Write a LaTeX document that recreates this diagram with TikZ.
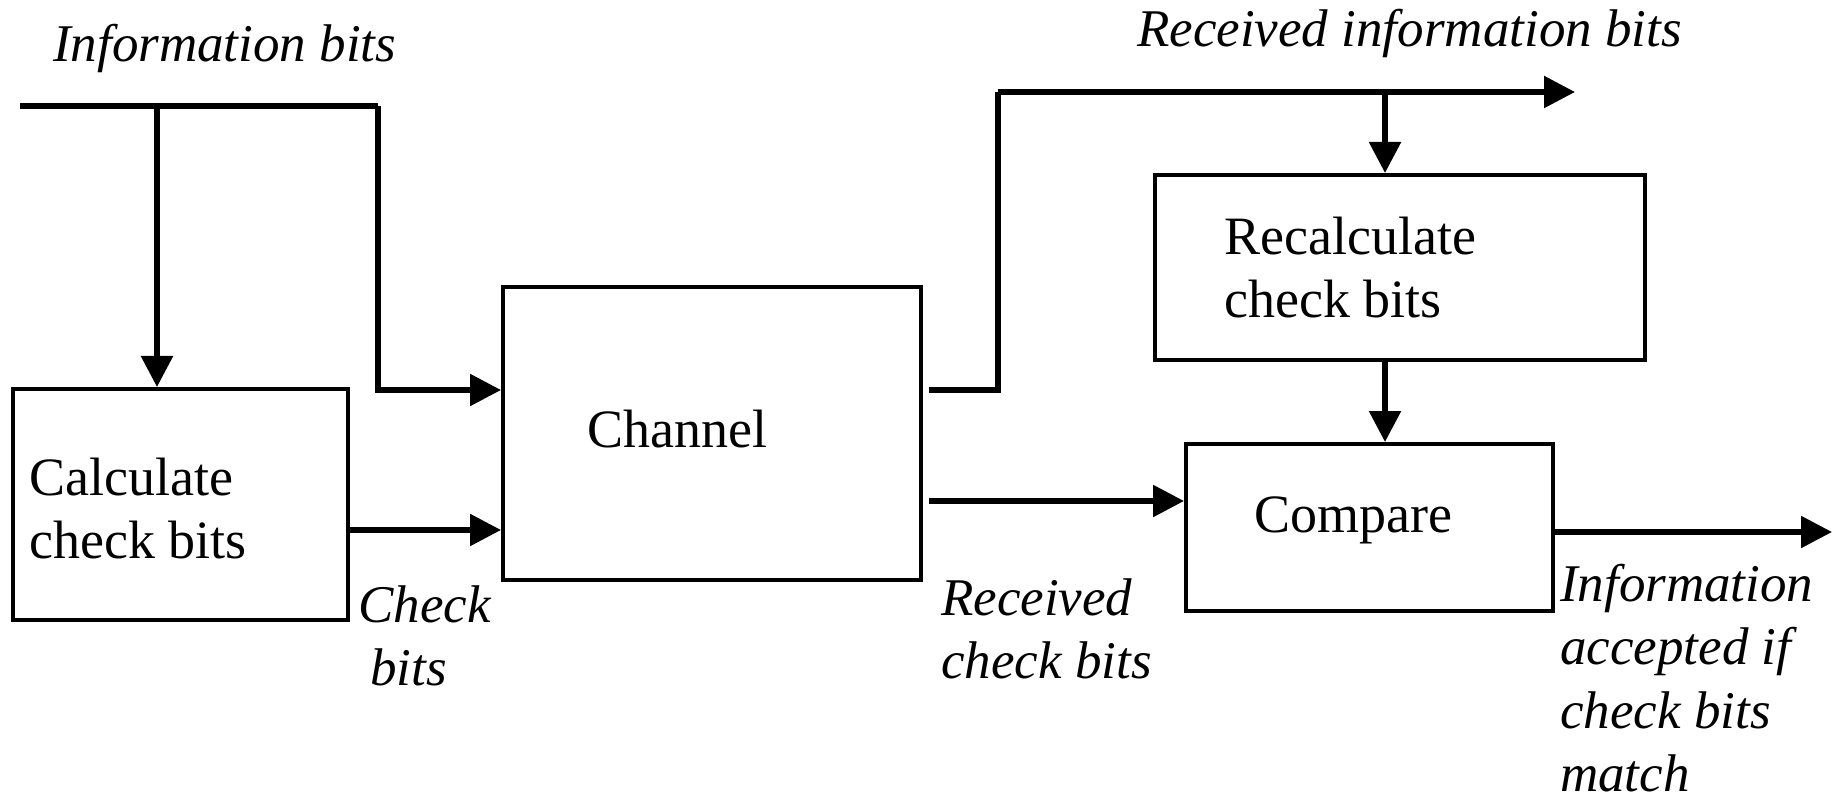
\documentclass[tikz,border=0pt]{standalone}
\usepackage{fontspec}
\setmainfont{Liberation Serif}
\usetikzlibrary{arrows.meta}
\begin{document}
\begin{tikzpicture}[x=1pt,y=-1pt,
  box/.style={draw,line width=4pt,inner sep=0pt,rectangle},
  wire/.style={line width=5.5pt},
  arr/.style={wire,-{Triangle[length=31pt,width=31pt]}},
  boxtext/.style={anchor=base west,inner sep=0pt,font=\fontsize{54}{63}\selectfont},
  lbl/.style={anchor=base west,inner sep=0pt,font=\fontsize{53}{63.5}\selectfont\itshape}]
\useasboundingbox (0,0) rectangle (1841,799);

% boxes
\node[box,minimum width=335pt,minimum height=231pt] (calc) at (180.5,504.5) {};
\node[box,minimum width=418pt,minimum height=293pt] (chan) at (712,433.5) {};
\node[box,minimum width=490pt,minimum height=185pt] (recalc) at (1400,267.5) {};
\node[box,minimum width=367pt,minimum height=167pt] (comp) at (1369.5,527.5) {};

% box texts
\node[boxtext] (calct) at (29,495) {\begin{tabular}[t]{@{}l@{}}Calculate\\check bits\end{tabular}};
\node[boxtext] (chant) at (587,447) {Channel};
\node[boxtext] (recalct) at (1224,255) {\begin{tabular}[t]{@{}l@{}}Recalculate\\check bits\end{tabular}};
\node[boxtext] (compt) at (1254,532) {Compare};

% labels
\node[lbl] (linfo) at (53,62) {Information bits};
\node[lbl] (lrinfo) at (1137,47) {Received information bits};
\node[lbl] (lcheck) at (358,622) {\begin{tabular}[t]{@{}l@{}}Check\\\hspace{12pt}bits\end{tabular}};
\node[lbl] (lrcheck) at (941,615) {\begin{tabular}[t]{@{}l@{}}Received\\check bits\end{tabular}};
\node[lbl] (lacc) at (1560,601) {\begin{tabular}[t]{@{}l@{}}Information\\accepted if\\check bits\\match\end{tabular}};

% connector coordinates
\coordinate (in1) at (20,106);
\coordinate (j1) at (157,106);
\coordinate (c1) at (378,106);
\coordinate (cb) at (348,530);
\coordinate (co) at (929,390);
\coordinate (ri) at (998,92);
\coordinate (riend) at (1575,92);
\coordinate (j2) at (1385,92);
\coordinate (rc) at (929,501);
\coordinate (out) at (1832,532);

% connectors
\draw[wire,line width=6.5pt] (in1) -- (c1);
\draw[arr] (c1) |- ([yshift=43.5pt]chan.west);
\draw[arr] (j1) -- (j1 |- calc.north);
\draw[arr] (cb) -- (cb -| chan.west);
\draw[wire] (co) -| (ri);
\draw[arr] (ri) -- (riend);
\draw[arr] (j2) -- (j2 |- recalc.north);
\draw[arr] (j2 |- recalc.south) -- (j2 |- comp.north);
\draw[arr] (rc) -- (rc -| comp.west);
\draw[arr] (out -| comp.east) -- (out);
\end{tikzpicture}
\end{document}
